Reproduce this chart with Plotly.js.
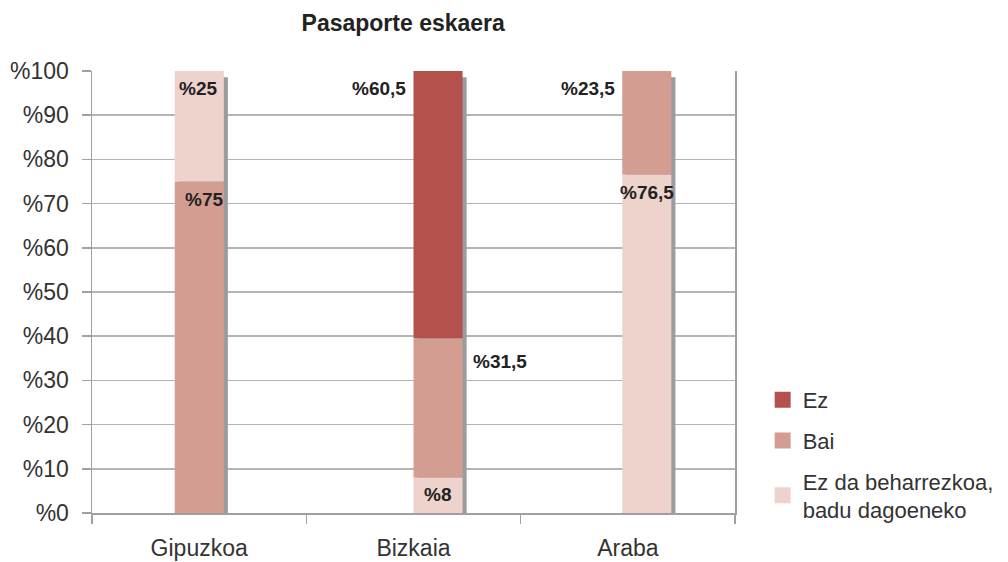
<!DOCTYPE html>
<html>
<head>
<meta charset="utf-8">
<script src="https://cdn.plot.ly/plotly-3.0.1.min.js"></script>
<style>html,body{margin:0;padding:0;background:#fff;}#chart{width:1008px;height:562px;}</style>
</head>
<body>
<div id="chart"></div>
<script>
// ---- data ----
const categories = ['Gipuzkoa', 'Bizkaia', 'Araba'];
const seriesKeys = ['ez', 'bai', 'ezDa'];
const seriesNames = ['Ez', 'Bai', 'Ez da beharrezkoa,<br>badu dagoeneko'];
const ezValues = [0, 60.5, 0];
const baiValues = [75, 31.5, 23.5];
const ezDaValues = [25, 8, 76.5];
const yTickValues = [0, 10, 20, 30, 40, 50, 60, 70, 80, 90, 100];
const yTickLabels = ['%0', '%10', '%20', '%30', '%40', '%50', '%60', '%70', '%80', '%90', '%100'];
const chartTitle = 'Pasaporte eskaera';

// ---- styling ----
const FONT = '"Liberation Sans", Arial, Helvetica, sans-serif';
const colors = { ez: '#b4514c', bai: '#d39e91', ezDa: '#edd3cc' };
const shadowColor = '#9c9ca0';
const gridColor = '#b4b4b4';
const textColor = '#333333';
// stacking order (bottom -> top) for each category, as in the original
const stackOrder = [['bai', 'ezDa', 'ez'], ['ezDa', 'bai', 'ez'], ['ezDa', 'bai', 'ez']];
const barWidth = 0.229;
const barOffsets = [-0.114, 0.0, -0.026];
const shadowDx = 0.019;     // shadow shift right (category units)
const shadowDrop = 1.4;     // shadow top drop (value units)
const labelPlacement = {
  'ezDa-0': { xanchor: 'center', xshift: -1, yshift: -5 },
  'bai-0':  { xanchor: 'center', xshift: 5, yshift: -5 },
  'ez-1':   { xanchor: 'right', xshift: -6, yshift: -5 },
  'bai-1':  { xanchor: 'left', xshift: 57, yshift: -11 },
  'ezDa-1': { xanchor: 'center', xshift: 24, yshift: -4 },
  'bai-2':  { xanchor: 'right', xshift: -11, yshift: -5 },
  'ezDa-2': { xanchor: 'center', xshift: 19, yshift: -5 }
};

const valuesByKey = { ez: ezValues, bai: baiValues, ezDa: ezDaValues };

// compute bases from data
const bases = { ez: [], bai: [], ezDa: [] };
const totals = [];
categories.forEach((c, i) => {
  let acc = 0;
  stackOrder[i].forEach(k => { bases[k][i] = acc; acc += valuesByKey[k][i]; });
  totals[i] = acc;
});

const traces = [];
// shadow (3D effect)
traces.push({
  type: 'bar', x: categories, y: totals.map(t => t - shadowDrop), base: 0,
  width: barWidth, offset: barOffsets.map(o => o + shadowDx),
  marker: { color: shadowColor, line: { width: 0 } },
  showlegend: false, hoverinfo: 'skip'
});
seriesKeys.forEach((k, si) => {
  traces.push({
    type: 'bar', name: seriesNames[si], x: categories, y: valuesByKey[k], base: bases[k],
    width: barWidth, offset: barOffsets,
    marker: { color: colors[k], line: { width: 0 } },
    showlegend: false, legendgroup: k, hoverinfo: 'skip'
  });
});
// legend entries (larger square swatches)
seriesKeys.forEach((k, si) => {
  traces.push({
    type: 'scatter', mode: 'markers', name: seriesNames[si], x: [null], y: [null],
    marker: { symbol: 'square', size: 16, color: colors[k] },
    legendgroup: k, showlegend: true, hoverinfo: 'skip'
  });
});

// labels
const annotations = [];
seriesKeys.forEach(k => {
  valuesByKey[k].forEach((v, i) => {
    if (!v) return;
    const p = labelPlacement[k + '-' + i] || { xanchor: 'center', xshift: 0, yshift: -5 };
    annotations.push({
      x: categories[i], y: bases[k][i] + v, xref: 'x', yref: 'y',
      text: '%' + String(v).replace('.', ','), showarrow: false,
      xanchor: p.xanchor, yanchor: 'top', xshift: p.xshift, yshift: p.yshift,
      font: { family: FONT, size: 19, color: '#222', weight: 'bold' }
    });
  });
});

const layout = {
  width: 1008, height: 562,
  margin: { l: 92, r: 273, t: 71, b: 49, autoexpand: false },
  paper_bgcolor: '#fff', plot_bgcolor: '#fff',
  barmode: 'overlay',
  font: { family: FONT, color: textColor, size: 22 },
  title: {
    text: '<b>' + chartTitle + '</b>', x: 0.484, xref: 'paper', xanchor: 'center',
    y: 0.96, yref: 'container', yanchor: 'middle',
    font: { family: FONT, size: 23, color: '#222' }
  },
  xaxis: {
    type: 'category', range: [-0.5, 2.5], tickson: 'boundaries',
    ticks: 'outside', ticklen: 9, tickcolor: '#a0a0a0', tickwidth: 1.5,
    showline: true, linecolor: '#a0a0a0', linewidth: 1.5,
    showgrid: false, zeroline: false, fixedrange: true, automargin: false,
    ticklabelstandoff: 14,
    tickfont: { family: FONT, size: 23, color: textColor }
  },
  yaxis: {
    range: [0, 100], tickvals: yTickValues, ticktext: yTickLabels,
    ticks: 'outside', ticklen: 9, tickcolor: '#a0a0a0', tickwidth: 1.5,
    showline: true, linecolor: '#a0a0a0', linewidth: 1.5, mirror: true,
    showgrid: true, gridcolor: gridColor, gridwidth: 1.5, automargin: false,
    zeroline: false, fixedrange: true, ticklabelstandoff: 8,
    tickfont: { family: FONT, size: 23, color: textColor }
  },
  legend: {
    x: 1.043, xref: 'paper', xanchor: 'left', y: 0.303, yanchor: 'top',
    font: { family: FONT, size: 22, color: textColor },
    traceorder: 'grouped', tracegroupgap: 9, bgcolor: 'rgba(0,0,0,0)'
  },
  annotations: annotations,
  hovermode: false
};

Plotly.newPlot('chart', traces, layout, { displayModeBar: false, staticPlot: true });
</script>
</body>
</html>
